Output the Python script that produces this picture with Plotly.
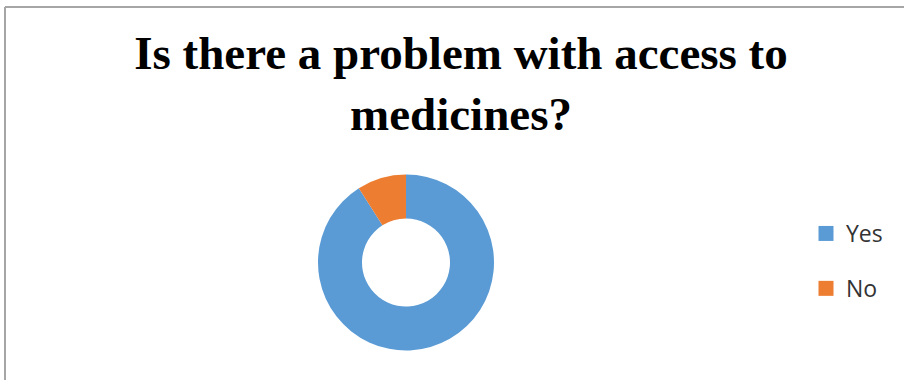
import plotly.graph_objects as go

categories = ["Yes", "No"]
values = [91, 9]
colors = ["#5B9BD5", "#ED7D31"]
title_text = "Is there a problem with access to<br>medicines?"

W, H = 904, 380
title_font = dict(family="Liberation Serif", size=47, color="black", weight="bold")

fig = go.Figure()
fig.add_trace(
    go.Pie(
        labels=categories,
        values=values,
        hole=0.5,
        sort=False,
        direction="clockwise",
        rotation=0,
        marker=dict(colors=colors, line=dict(width=0)),
        textinfo="none",
        hoverinfo="label+percent",
        showlegend=False,
        domain=dict(x=[(406 - 88) / W, (406 + 88) / W], y=[(H - 351) / H, (H - 174) / H]),
    )
)
# legend entries (one per category)
for i, (cat, col) in enumerate(zip(categories, colors)):
    fig.add_trace(
        go.Scatter(
            x=[None], y=[None], mode="markers", name=cat,
            marker=dict(symbol="square", size=15, color=col),
            legendgroup=f"g{i}", hoverinfo="skip",
        )
    )

fig.update_layout(
    width=W,
    height=H,
    margin=dict(l=0, r=0, t=0, b=0),
    paper_bgcolor="white",
    plot_bgcolor="white",
    xaxis=dict(visible=False),
    yaxis=dict(visible=False),
    title=dict(
        text=title_text,
        font=title_font,
        x=461 / W,
        xanchor="center",
        y=1 - 69 / H,
        yanchor="top",
        xref="paper",
        yref="container",
    ),
    legend=dict(
        x=806 / W,
        xanchor="left",
        y=1 - 212 / H,
        yanchor="top",
        tracegroupgap=22,
        font=dict(family="Open Sans", size=23, color="#333333"),
        bgcolor="rgba(0,0,0,0)",
    ),
    shapes=[
        dict(type="line", xref="paper", yref="paper", x0=5 / W, x1=1, y0=1 - 7 / H, y1=1 - 7 / H,
             line=dict(color="#A6A6A6", width=2)),
        dict(type="line", xref="paper", yref="paper", x0=5 / W, x1=5 / W, y0=0, y1=1 - 7 / H,
             line=dict(color="#A6A6A6", width=2)),
    ],
)

fig.write_html("out.html")
